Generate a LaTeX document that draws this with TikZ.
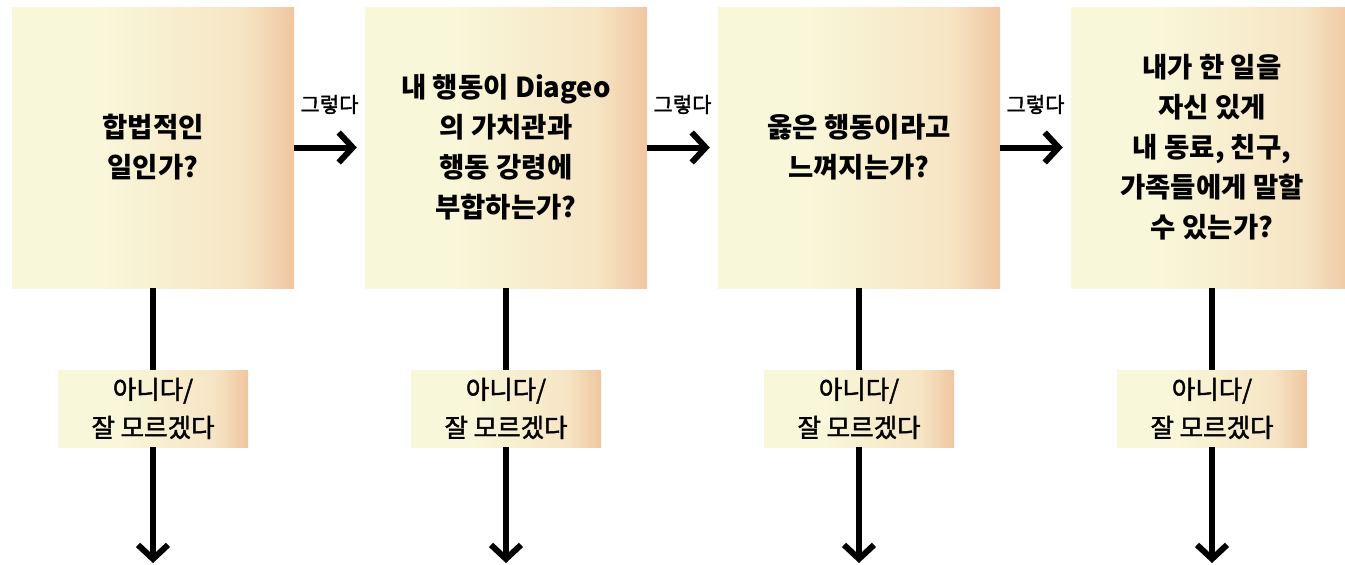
\documentclass[tikz,border=0pt]{standalone}
\usepackage{fontspec}
\newfontfamily\kr{Noto Sans CJK KR}
\newfontfamily\krm[FakeBold=1.6]{Noto Sans CJK KR}
\usetikzlibrary{arrows.meta,calc}
\definecolor{cA}{HTML}{F9F7DA}
\definecolor{cB}{HTML}{F6E5C4}
\definecolor{cC}{HTML}{EFC6A0}
\pgfdeclarehorizontalshading{boxshade}{100bp}{color(0bp)=(cA); color(25bp)=(cA); color(40bp)=(cA); color(66bp)=(cB); color(75bp)=(cC); color(100bp)=(cC)}
\tikzset{
  bigbox/.style={shading=boxshade, minimum width=282pt, minimum height=281pt, inner sep=0pt, align=center, font=\kr\bfseries\fontsize{27.5}{40}\selectfont},
  smallbox/.style={shading=boxshade, minimum width=190pt, minimum height=77pt, inner sep=0pt, align=center, font=\krm\fontsize{25.5}{38}\selectfont},
  yeslabel/.style={font=\krm\fontsize{21}{24}\selectfont},
  flowline/.style={line width=6pt},
  flowarrow/.style={line width=6pt, -{Straight Barb[length=14pt, width=30pt, line join=miter, line cap=butt]}},
}
\begin{document}
\begin{tikzpicture}[x=1pt,y=-1pt]
\useasboundingbox (0,0) rectangle (1345,565);
\node[bigbox] (b1) at (153,147.5) {합법적인\\일인가?};
\node[bigbox] (b2) at (506,147.5) {내 행동이 Diageo\\의 가치관과\\행동 강령에\\부합하는가?};
\node[bigbox] (b3) at (859,147.5) {옳은 행동이라고\\느껴지는가?};
\node[bigbox] (b4) at (1212,147.5) {내가 한 일을\\자신 있게\\내 동료, 친구,\\가족들에게 말할\\수 있는가?};
\foreach \i/\x in {1/153,2/506,3/859,4/1212}{
  \node[smallbox] (s\i) at (\x,408.5) {아니다/\\잘 모르겠다};
  \coordinate (e\i) at (\x,563);
  \draw[flowline] (b\i.south) -- (s\i.north);
  \draw[flowarrow] (s\i.south) -- (e\i);
}
\foreach \a/\b in {1/2,2/3,3/4}{
  \draw[flowarrow] (b\a.east) -- ([xshift=-8pt]b\b.west);
  \node[yeslabel] (y\a) at ($(b\a.east)!0.5!(b\b.west)+(0,-43)$) {그렇다};
}
\end{tikzpicture}
\end{document}
